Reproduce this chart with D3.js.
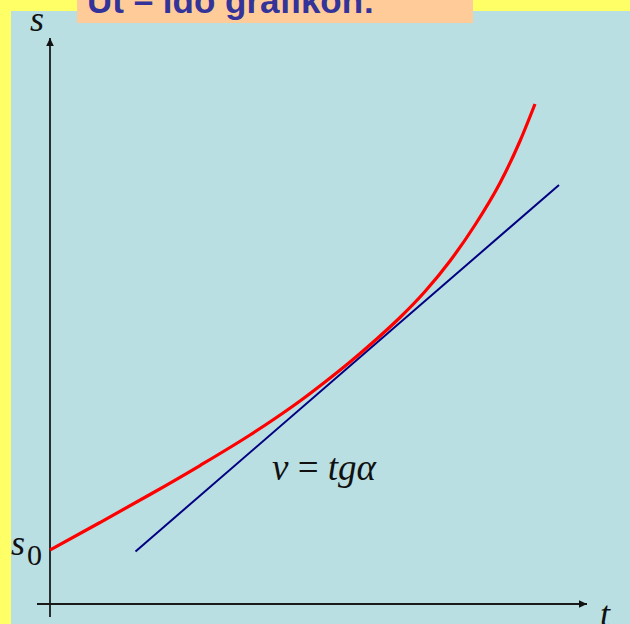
<!DOCTYPE html>
<html>
<head>
<meta charset="utf-8">
<script src="https://cdn.jsdelivr.net/npm/d3@7"></script>
<style>
  html, body { margin: 0; padding: 0; background: #ffff66; }
  svg { display: block; }
</style>
</head>
<body>
<script>
// Path–time graph: s(t) with a tangent line whose slope is the velocity.
const timeValues = [0, 1, 2, 3, 4, 4.5, 5, 5.5, 6, 6.5, 7, 7.5, 8, 8.5, 9, 9.4, 9.7];
const pathValues = [1.08, 1.63, 2.19, 2.77, 3.38, 3.71, 4.06, 4.44, 4.84, 5.27, 5.73, 6.25, 6.86, 7.58, 8.42, 9.26, 10.0];

// Tangent line end points (t, s)
const tangentTime = [1.71, 10.18];
const tangentPath = [1.05, 8.38];

// Axis extents in data units
const timeAxisExtent = [-0.26, 10.74];
const pathAxisExtent = [-0.26, 11.32];

const s0Value = pathValues[0];
const titleText = "Út – idő grafikon:";

const W = 630, H = 624;
const svg = d3.select("body").append("svg").attr("width", W).attr("height", H);

// Backgrounds
svg.append("rect").attr("width", W).attr("height", H).attr("fill", "#ffff66");
svg.append("rect").attr("x", 11).attr("y", 11).attr("width", W - 11).attr("height", H - 11).attr("fill", "#b9dfe2");

// Title box (partly above the page edge)
svg.append("rect").attr("x", 77).attr("y", 0).attr("width", 396).attr("height", 23).attr("fill", "#ffcc99");
svg.append("text").attr("x", 87).attr("y", 13)
  .attr("font-family", "'Liberation Sans', Arial, sans-serif")
  .attr("font-weight", "bold").attr("font-size", 35)
  .attr("fill", "#333399").text(titleText);

// Scales
const x = d3.scaleLinear().domain([0, 10]).range([50, 550]);
const y = d3.scaleLinear().domain([0, 10]).range([604, 104]);

// Arrow marker
const defs = svg.append("defs");
defs.append("marker").attr("id", "arrow")
  .attr("viewBox", "0 0 8 8").attr("refX", 8).attr("refY", 4)
  .attr("markerUnits", "userSpaceOnUse")
  .attr("markerWidth", 8).attr("markerHeight", 8)
  .attr("orient", "auto")
  .append("path").attr("d", "M0,0.2 L8,4 L0,7.8 Z").attr("fill", "#111");

// Axes without ticks, arrow at the far end
const xAxisScale = x.copy().domain(timeAxisExtent).range(timeAxisExtent.map(x));
const yAxisScale = y.copy().domain(pathAxisExtent).range(pathAxisExtent.map(y));

const gx = svg.append("g").attr("transform", `translate(0,${y(0)})`)
  .call(d3.axisBottom(xAxisScale).tickValues([]).tickSizeOuter(0));
const gy = svg.append("g").attr("transform", `translate(${x(0)},0)`)
  .call(d3.axisLeft(yAxisScale).tickValues([]).tickSizeOuter(0));

// Domain paths run from the low end to the high end so the arrow sits at the far end
gy.select(".domain").attr("d", `M0,${yAxisScale(pathAxisExtent[0])}V${yAxisScale(pathAxisExtent[1])}`);
gx.select(".domain").attr("d", `M${xAxisScale(timeAxisExtent[0])},0H${xAxisScale(timeAxisExtent[1])}`);
[gx, gy].forEach(g => g.select(".domain")
  .attr("stroke", "#1a1a1a").attr("stroke-width", 1.8).attr("marker-end", "url(#arrow)"));

// Tangent line
svg.append("line")
  .attr("x1", x(tangentTime[0])).attr("y1", y(tangentPath[0]))
  .attr("x2", x(tangentTime[1])).attr("y2", y(tangentPath[1]))
  .attr("stroke", "#000080").attr("stroke-width", 2);

// s(t) curve
const line = d3.line()
  .x((d, i) => x(timeValues[i]))
  .y(d => y(d))
  .curve(d3.curveMonotoneX);
svg.append("path").datum(pathValues)
  .attr("d", line)
  .attr("fill", "none").attr("stroke", "#ff0000").attr("stroke-width", 3.2)
  .attr("stroke-linecap", "butt");

// Labels
const serif = "'Liberation Serif', 'Times New Roman', serif";
svg.append("text").attr("x", 30).attr("y", 31)
  .attr("font-family", serif).attr("font-style", "italic").attr("font-size", 36)
  .attr("fill", "#111").text("s");

svg.append("text").attr("x", 600).attr("y", 626)
  .attr("font-family", serif).attr("font-style", "italic").attr("font-size", 36)
  .attr("fill", "#111").text("t");

const s0 = svg.append("text").attr("x", 11).attr("y", y(s0Value) + 5)
  .attr("font-family", serif).attr("font-size", 36).attr("fill", "#111");
s0.append("tspan").attr("font-style", "italic").text("s");
s0.append("tspan").attr("font-size", 30).attr("dx", 2).attr("dy", 10).text("0");

const v = svg.append("text").attr("x", 272).attr("y", 480)
  .attr("font-family", serif).attr("font-size", 37).attr("fill", "#111");
v.append("tspan").attr("font-style", "italic").text("v");
v.append("tspan").text(" = ");
v.append("tspan").attr("font-style", "italic").text("tgα");
</script>
</body>
</html>
